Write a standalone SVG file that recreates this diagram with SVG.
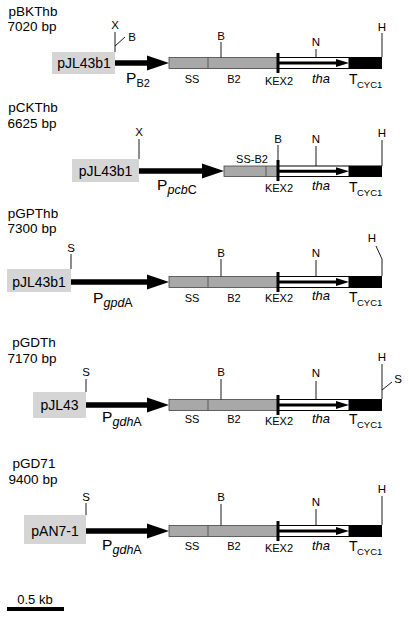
<svg xmlns="http://www.w3.org/2000/svg" width="409" height="618" viewBox="0 0 409 618">
<style>
text{font-family:"Liberation Sans",Arial,sans-serif;fill:#000}
.ttl{font-size:13.5px;text-anchor:middle}
.vec{fill:#d5d5d5}
.vt{font-size:14px;text-anchor:middle}
.site{font-size:11.5px;text-anchor:middle}
.lab{font-size:11px;text-anchor:middle}
.tha{font-size:13px;font-style:italic;text-anchor:middle}
.P{font-size:15.5px}
.sub{font-size:12.5px}
.T{font-size:14px}
.cyc{font-size:9.5px}
.gene{fill:#a8a8a8;stroke:#444;stroke-width:0.8}
.sep{stroke:#444;stroke-width:0.8}
.thin{stroke:#000;stroke-width:0.9;fill:none}
.prom{stroke:#000;stroke-width:5.5}
.kex{stroke:#000;stroke-width:3}
.tharect{fill:#fff;stroke:#000;stroke-width:1}
.thaline{stroke:#000;stroke-width:3}
.term{fill:#000}
</style>

<!-- Row 1: pBKThb -->
<g id="pBKThb">
<text class="ttl" x="33" y="16">pBKThb</text>
<text class="ttl" x="32" y="31">7020 bp</text>
<rect class="vec" x="52" y="52" width="63" height="22"/>
<text class="vt" x="84" y="68">pJL43b1</text>
<line class="thin" x1="115" y1="32" x2="115" y2="52"/>
<text class="site" x="115" y="29">X</text>
<line class="thin" x1="115" y1="46" x2="125" y2="37"/>
<text class="site" x="132" y="41">B</text>
<line class="prom" x1="115" y1="63" x2="150" y2="63"/>
<polygon points="147,55.5 169,63 147,70.5"/>
<text class="P" x="126" y="83">P</text><text class="sub" x="136.5" y="87" style="font-size:11px">B2</text>
<rect class="gene" x="169" y="57.5" width="109" height="11"/>
<line class="sep" x1="208" y1="57.5" x2="208" y2="68.5"/>
<line class="thin" x1="221" y1="42" x2="221" y2="57.5"/>
<text class="site" x="221" y="40">B</text>
<rect class="tharect" x="278" y="57.5" width="71" height="11"/>
<line class="thaline" x1="278" y1="63" x2="339" y2="63"/>
<polygon points="336,59 349,63 336,67"/>
<line class="kex" x1="278" y1="53" x2="278" y2="73"/>
<line class="thin" x1="316" y1="49" x2="316" y2="57.5"/>
<text class="site" x="316" y="46">N</text>
<rect class="term" x="349" y="57" width="33" height="12"/>
<line class="thin" x1="382" y1="33" x2="382" y2="57"/>
<text class="site" x="382" y="31">H</text>
<text class="lab" x="192" y="83">SS</text>
<text class="lab" x="234" y="83">B2</text>
<text class="lab" x="279" y="85">KEX2</text>
<text class="tha" x="321" y="83">tha</text>
<text class="T" x="349" y="84">T</text><text class="cyc" x="357" y="88">CYC1</text>
</g>

<!-- Row 2: pCKThb -->
<g id="pCKThb">
<text class="ttl" x="33" y="111.5">pCKThb</text>
<text class="ttl" x="32" y="127.5">6625 bp</text>
<rect class="vec" x="72" y="159" width="67" height="23"/>
<text class="vt" x="105.5" y="176">pJL43b1</text>
<line class="thin" x1="139" y1="139" x2="139" y2="159"/>
<text class="site" x="139" y="136">X</text>
<line class="prom" x1="139" y1="171" x2="205" y2="171"/>
<polygon points="202,163.5 224,171 202,178.5"/>
<text class="P" x="157" y="190">P</text><text class="sub" x="167.5" y="194"><tspan font-style="italic">pcb</tspan>C</text>
<rect class="gene" x="224" y="166" width="54" height="10.5"/>
<line class="sep" x1="266" y1="166" x2="266" y2="176.5"/>
<text class="site" x="252" y="163" style="font-size:11px">SS-B2</text>
<line class="thin" x1="278" y1="145" x2="278" y2="160"/>
<text class="site" x="278" y="143">B</text>
<rect class="tharect" x="278" y="166" width="71" height="10.5"/>
<line class="thaline" x1="278" y1="171.3" x2="339" y2="171.3"/>
<polygon points="336,167.3 349,171.3 336,175.3"/>
<line class="kex" x1="278" y1="160" x2="278" y2="181"/>
<line class="thin" x1="316" y1="146" x2="316" y2="166"/>
<text class="site" x="316" y="143">N</text>
<rect class="term" x="349" y="165.5" width="33" height="11.5"/>
<line class="thin" x1="382" y1="140" x2="382" y2="166"/>
<text class="site" x="382" y="137">H</text>
<text class="lab" x="279" y="192">KEX2</text>
<text class="tha" x="321" y="190">tha</text>
<text class="T" x="349" y="192">T</text><text class="cyc" x="357" y="196">CYC1</text>
</g>

<!-- Row 3: pGPThb -->
<g id="pGPThb">
<text class="ttl" x="33" y="217.5">pGPThb</text>
<text class="ttl" x="32" y="232.5">7300 bp</text>
<rect class="vec" x="7" y="269" width="64" height="23"/>
<text class="vt" x="39" y="287">pJL43b1</text>
<line class="thin" x1="71" y1="254" x2="71" y2="269"/>
<text class="site" x="71" y="252">S</text>
<line class="prom" x1="71" y1="282" x2="150" y2="282"/>
<polygon points="147,274.5 169,282 147,289.5"/>
<text class="P" x="93" y="303">P</text><text class="sub" x="103.5" y="307"><tspan font-style="italic">gpd</tspan>A</text>
<rect class="gene" x="169" y="276.5" width="109" height="11"/>
<line class="sep" x1="208" y1="276.5" x2="208" y2="287.5"/>
<line class="thin" x1="221" y1="259" x2="221" y2="276.5"/>
<text class="site" x="221" y="257">B</text>
<rect class="tharect" x="278" y="276.5" width="71" height="11"/>
<line class="thaline" x1="278" y1="282" x2="339" y2="282"/>
<polygon points="336,278 349,282 336,286"/>
<line class="kex" x1="278" y1="272" x2="278" y2="292"/>
<line class="thin" x1="316" y1="260" x2="316" y2="276.5"/>
<text class="site" x="316" y="257">N</text>
<rect class="term" x="349" y="276" width="33" height="12"/>
<polyline class="thin" points="382,276 382,259 376,246"/>
<text class="site" x="372" y="242">H</text>
<text class="lab" x="192" y="302">SS</text>
<text class="lab" x="234" y="302">B2</text>
<text class="lab" x="279" y="302">KEX2</text>
<text class="tha" x="321" y="300">tha</text>
<text class="T" x="349" y="302">T</text><text class="cyc" x="357" y="306">CYC1</text>
</g>

<!-- Row 4: pGDTh -->
<g id="pGDTh">
<text class="ttl" x="34" y="347">pGDTh</text>
<text class="ttl" x="32" y="362.5">7170 bp</text>
<rect class="vec" x="33" y="392" width="53" height="26"/>
<text class="vt" x="59.5" y="410">pJL43</text>
<line class="thin" x1="86" y1="379" x2="86" y2="392"/>
<text class="site" x="86" y="376">S</text>
<line class="prom" x1="86" y1="405" x2="150" y2="405"/>
<polygon points="147,397.5 169,405 147,412.5"/>
<text class="P" x="102" y="422">P</text><text class="sub" x="112.5" y="426"><tspan font-style="italic">gdh</tspan>A</text>
<rect class="gene" x="169" y="399.5" width="109" height="11"/>
<line class="sep" x1="208" y1="399.5" x2="208" y2="410.5"/>
<line class="thin" x1="221" y1="379" x2="221" y2="399.5"/>
<text class="site" x="221" y="376">B</text>
<rect class="tharect" x="278" y="399.5" width="71" height="11"/>
<line class="thaline" x1="278" y1="405" x2="339" y2="405"/>
<polygon points="336,401 349,405 336,409"/>
<line class="kex" x1="278" y1="395" x2="278" y2="415"/>
<line class="thin" x1="316" y1="381" x2="316" y2="399.5"/>
<text class="site" x="316" y="377">N</text>
<rect class="term" x="349" y="399" width="33" height="12"/>
<line class="thin" x1="382" y1="364" x2="382" y2="399"/>
<text class="site" x="382" y="361">H</text>
<line class="thin" x1="382" y1="390" x2="392" y2="382"/>
<text class="site" x="398" y="383">S</text>
<text class="lab" x="192" y="423">SS</text>
<text class="lab" x="234" y="423">B2</text>
<text class="lab" x="279" y="425">KEX2</text>
<text class="tha" x="321" y="423">tha</text>
<text class="T" x="349" y="424">T</text><text class="cyc" x="357" y="428">CYC1</text>
</g>

<!-- Row 5: pGD71 -->
<g id="pGD71">
<text class="ttl" x="34" y="468">pGD71</text>
<text class="ttl" x="33" y="483.5">9400 bp</text>
<rect class="vec" x="24" y="515" width="62" height="29"/>
<text class="vt" x="55" y="536">pAN7-1</text>
<line class="thin" x1="86" y1="503" x2="86" y2="515"/>
<text class="site" x="86" y="501">S</text>
<line class="prom" x1="86" y1="531" x2="150" y2="531"/>
<polygon points="147,523.5 169,531 147,538.5"/>
<text class="P" x="102" y="550">P</text><text class="sub" x="112.5" y="554"><tspan font-style="italic">gdh</tspan>A</text>
<rect class="gene" x="169" y="525.5" width="109" height="11"/>
<line class="sep" x1="208" y1="525.5" x2="208" y2="536.5"/>
<line class="thin" x1="221" y1="504" x2="221" y2="525.5"/>
<text class="site" x="221" y="501">B</text>
<rect class="tharect" x="278" y="525.5" width="71" height="11"/>
<line class="thaline" x1="278" y1="531" x2="339" y2="531"/>
<polygon points="336,527 349,531 336,535"/>
<line class="kex" x1="278" y1="521" x2="278" y2="541"/>
<line class="thin" x1="316" y1="509" x2="316" y2="525.5"/>
<text class="site" x="316" y="506">N</text>
<rect class="term" x="349" y="525" width="33" height="12"/>
<line class="thin" x1="382" y1="496" x2="382" y2="525"/>
<text class="site" x="382" y="493">H</text>
<text class="lab" x="192" y="550">SS</text>
<text class="lab" x="234" y="550">B2</text>
<text class="lab" x="279" y="552">KEX2</text>
<text class="tha" x="321" y="550">tha</text>
<text class="T" x="349" y="551">T</text><text class="cyc" x="357" y="555">CYC1</text>
</g>

<!-- Scale bar -->
<g id="scale">
<text x="35" y="604" style="font-size:13px;text-anchor:middle">0.5 kb</text>
<line x1="7" y1="609" x2="64" y2="609" stroke="#000" stroke-width="4"/>
</g>
</svg>
